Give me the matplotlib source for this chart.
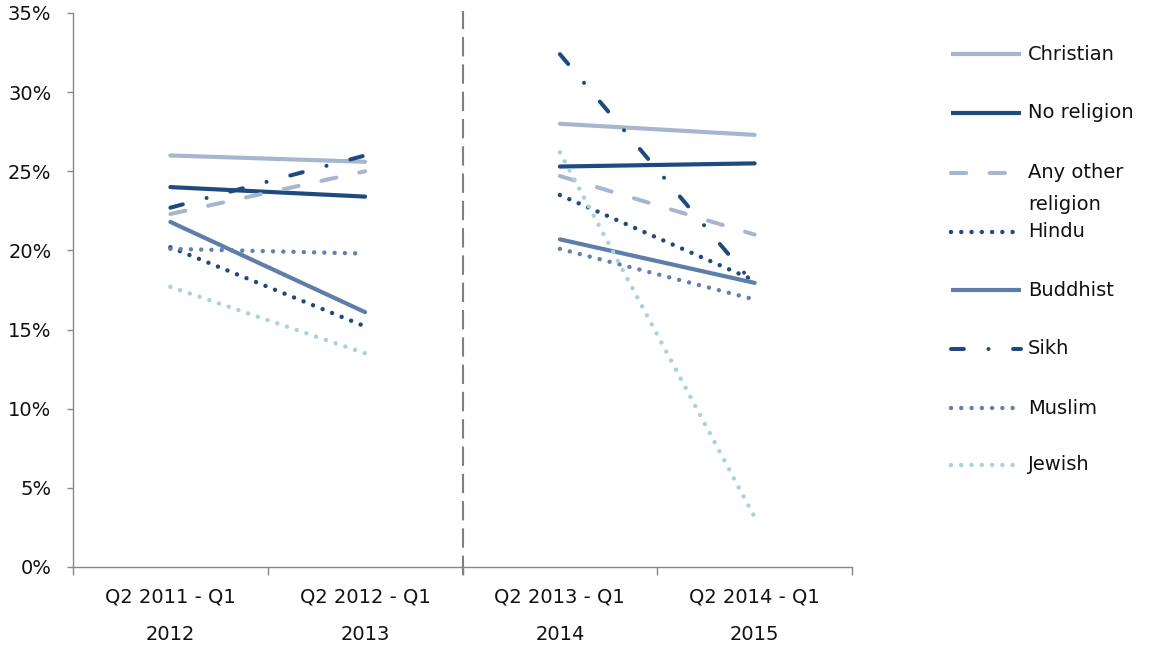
import numpy as np
import matplotlib
matplotlib.use("Agg")
import matplotlib.pyplot as plt
from matplotlib.lines import Line2D
from matplotlib.ticker import FixedLocator, FuncFormatter, NullFormatter

# Periods on the x axis
periods = ["Q2 2011 - Q1\n2012", "Q2 2012 - Q1\n2013",
           "Q2 2013 - Q1\n2014", "Q2 2014 - Q1\n2015"]

# Rates (%) by religion, one value per period
christian = [26.0, 25.6, 28.0, 27.3]
no_religion = [24.0, 23.4, 25.3, 25.5]
any_other = [22.3, 25.0, 24.7, 21.0]
hindu = [20.2, 15.2, 23.5, 18.1]
buddhist = [21.8, 16.1, 20.7, 17.95]
sikh = [22.7, 26.0, 32.4, 17.8]
muslim = [20.1, 19.8, 20.1, 16.9]
jewish = [17.7, 13.5, 26.2, 3.15]

series_names = ["Christian", "No religion", "Any other\nreligion", "Hindu",
                "Buddhist", "Sikh", "Muslim", "Jewish"]
series_values = [christian, no_religion, any_other, hindu,
                 buddhist, sikh, muslim, jewish]

y_ticks = [0, 5, 10, 15, 20, 25, 30, 35]

LIGHT = "#A6B6CF"
DARK = "#1F4A80"
MID = "#5E7EA9"
MID_DOT = "#6580AC"
PALE = "#A8D3DD"
TEXT = "#111111"

DOT = (0, (0.01, 2.3))
styles = [
    dict(color=LIGHT, lw=3.0, ls="-"),
    dict(color=DARK, lw=3.0, ls="-"),
    dict(color=LIGHT, lw=2.9, ls=(0, (3.8, 5.8))),
    dict(color=DARK, lw=3.2, ls=DOT),
    dict(color=MID, lw=3.0, ls="-"),
    dict(color=DARK, lw=2.9, ls=(0, (3.2, 6.1, 0.01, 6.1))),
    dict(color=MID_DOT, lw=3.2, ls=DOT),
    dict(color=PALE, lw=3.2, ls=DOT),
]

W, H = 1150, 646
fig = plt.figure(figsize=(W / 100, H / 100), dpi=100, facecolor="white")
ax = fig.add_axes([73 / W, 1 - 567 / H, (852 - 73) / W, (567 - 13) / H])

x = np.arange(len(periods))
# Two separate comparisons: first pair of periods and second pair
for vals, st in zip(series_values, styles):
    v = np.array(vals)
    for seg in (slice(0, 2), slice(2, 4)):
        ax.plot(x[seg], v[seg], color=st["color"], lw=st["lw"],
                linestyle=st["ls"], dash_capstyle="round",
                solid_capstyle="round")

# Divider between the two comparisons
ax.plot([1.5, 1.5], [-0.5, 35.15], color="#808080", lw=1.5,
        linestyle=(0, (9.3, 3.8)), dash_capstyle="butt", clip_on=False)

ax.set_xlim(-0.5, 3.5)
ax.set_ylim(0, 35)

ax.spines["top"].set_visible(False)
ax.spines["right"].set_visible(False)
for s in ("left", "bottom"):
    ax.spines[s].set_color("#888888")
    ax.spines[s].set_linewidth(1.0)

ax.set_yticks(y_ticks)
ax.yaxis.set_major_formatter(FuncFormatter(lambda v, p: f"{v:.0f}%"))
ax.tick_params(axis="y", direction="out", length=4.5, width=1.0,
               color="#888888", pad=11, labelsize=14, labelcolor=TEXT)

ax.xaxis.set_major_locator(FixedLocator([-0.5, 0.5, 1.5, 2.5, 3.5]))
ax.xaxis.set_major_formatter(NullFormatter())
ax.xaxis.set_minor_locator(FixedLocator(x))
ax.set_xticklabels(periods, minor=True)
ax.tick_params(axis="x", which="major", direction="out", length=6,
               width=1.0, color="#888888")
ax.tick_params(axis="x", which="minor", length=0, pad=15,
               labelsize=14, labelcolor=TEXT)
for lab in ax.get_xticklabels(minor=True):
    lab.set_linespacing(2.2)

# Legend keys drawn in figure pixels
row_y = [54, 113, 173, 232, 290, 349, 408, 465]
for name, st, py in zip(series_names, styles, row_y):
    yf = 1 - py / H
    fig.add_artist(Line2D([951 / W, 1021 / W], [yf, yf],
                          transform=fig.transFigure, color=st["color"],
                          lw=st["lw"], linestyle=st["ls"],
                          dash_capstyle="round", solid_capstyle="butt"))
    if "\n" in name:
        first, second = name.split("\n")
        fig.text(1028 / W, yf, first, fontsize=14, va="center", ha="left",
                 color=TEXT)
        fig.text(1028 / W, 1 - (py + 31) / H, second, fontsize=14,
                 va="center", ha="left", color=TEXT)
    else:
        fig.text(1028 / W, yf, name, fontsize=14, va="center", ha="left",
                 color=TEXT)

fig.savefig("out.png", dpi=100, facecolor="white")
